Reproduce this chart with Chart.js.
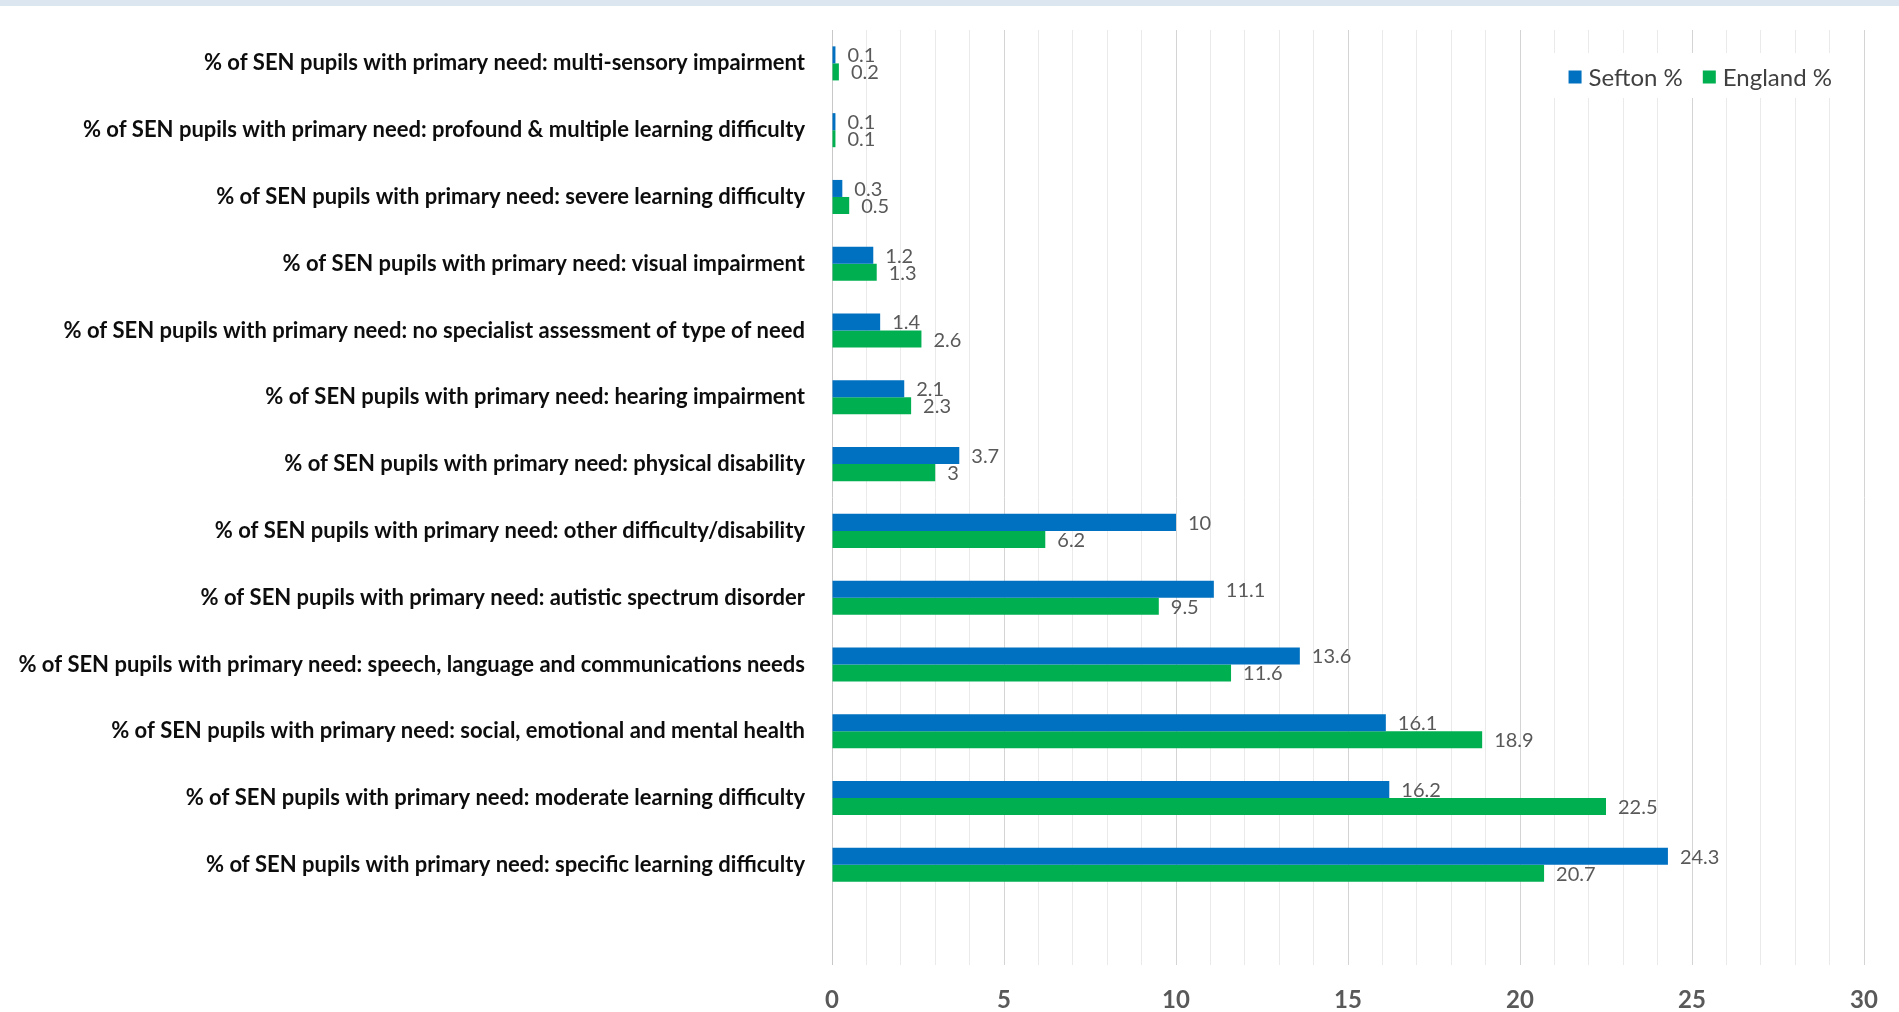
<!DOCTYPE html>
<html>
<head>
<meta charset="utf-8">
<script src="https://cdn.jsdelivr.net/npm/chart.js@4.4.1/dist/chart.umd.min.js"></script>
<style>
  html, body { margin: 0; padding: 0; background: #ffffff; }
  #band { position: absolute; left: 0; top: 0; width: 1899px; height: 6px; background: #dce6f1; }
  #wrap { position: absolute; left: 0; top: 0; width: 1899px; height: 1012px; }
</style>
</head>
<body>
<div id="wrap"><canvas id="sen-chart" width="1899" height="1012"></canvas></div>
<div id="band"></div>
<script>
const categories = [
  '% of SEN pupils with primary need: multi-sensory impairment',
  '% of SEN pupils with primary need: profound & multiple learning difficulty',
  '% of SEN pupils with primary need: severe learning difficulty',
  '% of SEN pupils with primary need: visual impairment',
  '% of SEN pupils with primary need: no specialist assessment of type of need',
  '% of SEN pupils with primary need: hearing impairment',
  '% of SEN pupils with primary need: physical disability',
  '% of SEN pupils with primary need: other difficulty/disability',
  '% of SEN pupils with primary need: autistic spectrum disorder',
  '% of SEN pupils with primary need: speech, language and communications needs',
  '% of SEN pupils with primary need: social, emotional and mental health',
  '% of SEN pupils with primary need: moderate learning difficulty',
  '% of SEN pupils with primary need: specific learning difficulty',
  ''
];
const seftonPct  = [0.1, 0.1, 0.3, 1.2, 1.4, 2.1, 3.7, 10, 11.1, 13.6, 16.1, 16.2, 24.3, null];
const englandPct = [0.2, 0.1, 0.5, 1.3, 2.6, 2.3, 3, 6.2, 9.5, 11.6, 18.9, 22.5, 20.7, null];
const xTicks = [0, 5, 10, 15, 20, 25, 30];

const labelFont = "Lato, 'Liberation Sans', sans-serif";

// value labels just past the end of each bar
const barValues = {
  id: 'barValues',
  afterDatasetsDraw(chart) {
    const ctx = chart.ctx;
    ctx.save();
    ctx.font = '20px ' + labelFont;
    ctx.fillStyle = '#595959';
    ctx.textAlign = 'left';
    ctx.textBaseline = 'middle';
    chart.data.datasets.forEach(function (ds, i) {
      const meta = chart.getDatasetMeta(i);
      meta.data.forEach(function (el, j) {
        const v = ds.data[j];
        if (v === null || v === undefined) return;
        ctx.fillText(String(v), el.x + 12, el.y + 1);
      });
    });
    ctx.restore();
  }
};

// legend drawn over the plot, top right, on a white box
const cornerLegend = {
  id: 'cornerLegend',
  afterDraw(chart) {
    const ctx = chart.ctx;
    ctx.save();
    ctx.font = '24px ' + labelFont;
    ctx.textBaseline = 'middle';
    const box = 13, gap = 7, itemGap = 20;
    const items = chart.data.datasets.map(ds => ({ text: ds.label, color: ds.backgroundColor }));
    let total = 0;
    items.forEach(it => { it.w = box + gap + ctx.measureText(it.text).width; total += it.w; });
    total += itemGap * (items.length - 1);
    const right = 1832;
    const cy = 77;
    let x = right - total;
    ctx.fillStyle = '#ffffff';
    ctx.fillRect(1550, 53, 300, 45);
    items.forEach(it => {
      ctx.fillStyle = it.color;
      ctx.fillRect(x, cy - box / 2, box, box);
      ctx.fillStyle = '#404040';
      ctx.fillText(it.text, x + box + gap, cy + 1);
      x += it.w + itemGap;
    });
    ctx.restore();
  }
};

const chartdata = {
  labels: categories,
  datasets: [
    {
      label: 'Sefton %',
      backgroundColor: '#0070c0',
      borderColor: '#0070c0',
      data: seftonPct,
      categoryPercentage: 0.51,
      barPercentage: 1.0
    },
    {
      label: 'England %',
      backgroundColor: '#00b050',
      borderColor: '#00b050',
      data: englandPct,
      categoryPercentage: 0.51,
      barPercentage: 1.0
    }
  ]
};

const box = document.getElementById('sen-chart');
const grafico = new Chart(box, {
  type: 'bar',
  data: chartdata,
  plugins: [barValues, cornerLegend],
  options: {
    responsive: false,
    animation: false,
    indexAxis: 'y',
    layout: { padding: { top: 30, right: 35, left: 0, bottom: 0 } },
    plugins: {
      legend: { display: false },
      tooltip: { enabled: false }
    },
    scales: {
      x: {
        min: 0,
        max: 30,
        afterBuildTicks: function (scale) {
          scale.ticks = [];
          for (let v = 0; v <= 30; v++) scale.ticks.push({ value: v });
        },
        afterFit: function (scale) { scale.height = 47; },
        ticks: {
          autoSkip: false,
          maxRotation: 0,
          padding: 21,
          color: '#595959',
          font: { family: labelFont, size: 24, weight: 'bold' },
          callback: function (value) { return xTicks.includes(value) ? String(value) : ''; }
        },
        grid: {
          drawTicks: false,
          lineWidth: 1,
          color: function (c) {
            const v = c.tick ? c.tick.value : 0;
            if (v === 0) return '#c8c8c8';
            return v % 5 === 0 ? '#d4d4d4' : '#eaeaea';
          }
        },
        border: { display: false }
      },
      y: {
        afterFit: function (scale) {
          scale.width = 832;
          scale.paddingTop = 0;
          scale.paddingBottom = 0;
        },
        ticks: {
          autoSkip: false,
          padding: 19,
          color: '#0d0d0d',
          font: { family: labelFont, size: 22, weight: 'bold' }
        },
        grid: { display: false },
        border: { display: false }
      }
    }
  }
});
</script>
</body>
</html>
